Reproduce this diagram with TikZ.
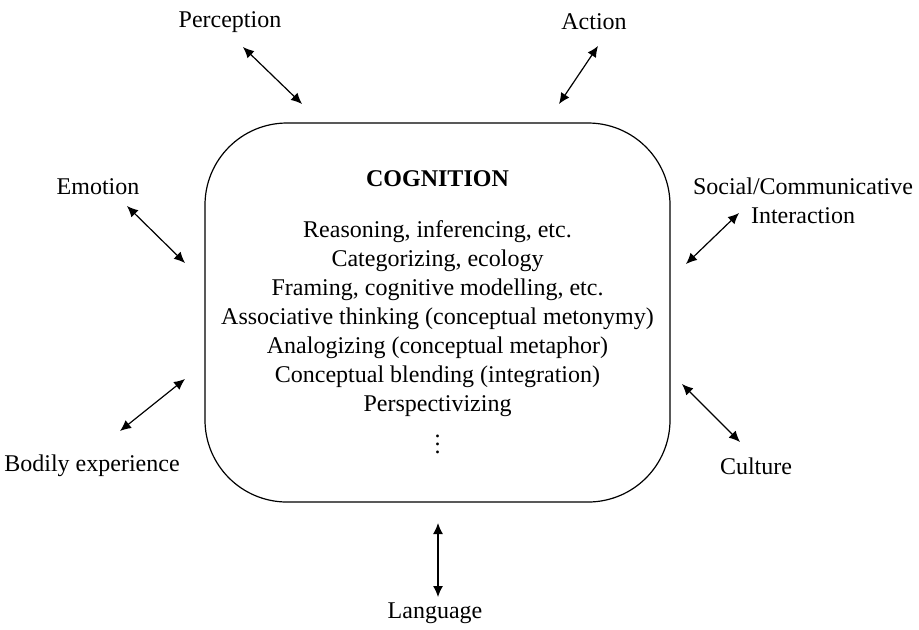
\documentclass[tikz,border=0pt]{standalone}
\usepackage{fontspec}
\setmainfont{Liberation Serif}
\usepackage{tikz}
\usetikzlibrary{arrows.meta,positioning,calc}

\begin{document}
\begin{tikzpicture}[x=0.5pt, y=-0.5pt,
    hub/.style={rectangle, draw, line width=0.6pt, rounded corners=41pt, minimum width=232.5pt, minimum height=189.5pt, align=center, font=\fontsize{12}{14.5}\selectfont},
    factor/.style={align=center, font=\fontsize{12}{14.5}\selectfont},
    arrow/.style={{Latex[length=5.5pt,width=5pt]}-{Latex[length=5.5pt,width=5pt]}, line width=0.6pt}
]
    \useasboundingbox (0,0) rectangle (919,629);

    \node[hub] (cognition) at (437.5,312.5) {\textbf{COGNITION}\\[11pt]
        Reasoning, inferencing, etc.\\
        Categorizing, ecology\\
        Framing, cognitive modelling, etc.\\
        Associative thinking (conceptual metonymy)\\
        Analogizing (conceptual metaphor)\\
        Conceptual blending (integration)\\
        Perspectivizing\\[2pt]
        $\vdots$};

    \node[factor] (perception) at (230,22) {Perception};
    \node[factor] (action) at (594,22) {Action};
    \node[factor] (emotion) at (98,187) {Emotion};
    \node[factor] (social) at (803,201) {Social/Communicative\\Interaction};
    \node[factor] (bodily) at (92,466) {Bodily experience};
    \node[factor] (culture) at (756,466) {Culture};
    \node[factor] (language) at (435,613) {Language};

    % free ends of the links
    \coordinate (perception-a) at (243,47);
    \coordinate (perception-b) at (302,104);
    \coordinate (action-a) at (598,46);
    \coordinate (action-b) at (559,104);
    \coordinate (emotion-a) at (127,206);
    \coordinate (emotion-b) at (185,263);
    \coordinate (social-a) at (739,213);
    \coordinate (social-b) at (686,264);
    \coordinate (bodily-a) at (120,431);
    \coordinate (bodily-b) at (185,379);
    \coordinate (culture-a) at (740,442);
    \coordinate (culture-b) at (682,384);
    \coordinate (language-a) at (438,597);
    \coordinate (language-b) at (438,523);

    \draw[arrow] (perception-a) -- (perception-b);
    \draw[arrow] (action-a) -- (action-b);
    \draw[arrow] (emotion-a) -- (emotion-b);
    \draw[arrow] (social-a) -- (social-b);
    \draw[arrow] (bodily-a) -- (bodily-b);
    \draw[arrow] (culture-a) -- (culture-b);
    \draw[arrow] (language-a) -- (language-b);
\end{tikzpicture}
\end{document}
